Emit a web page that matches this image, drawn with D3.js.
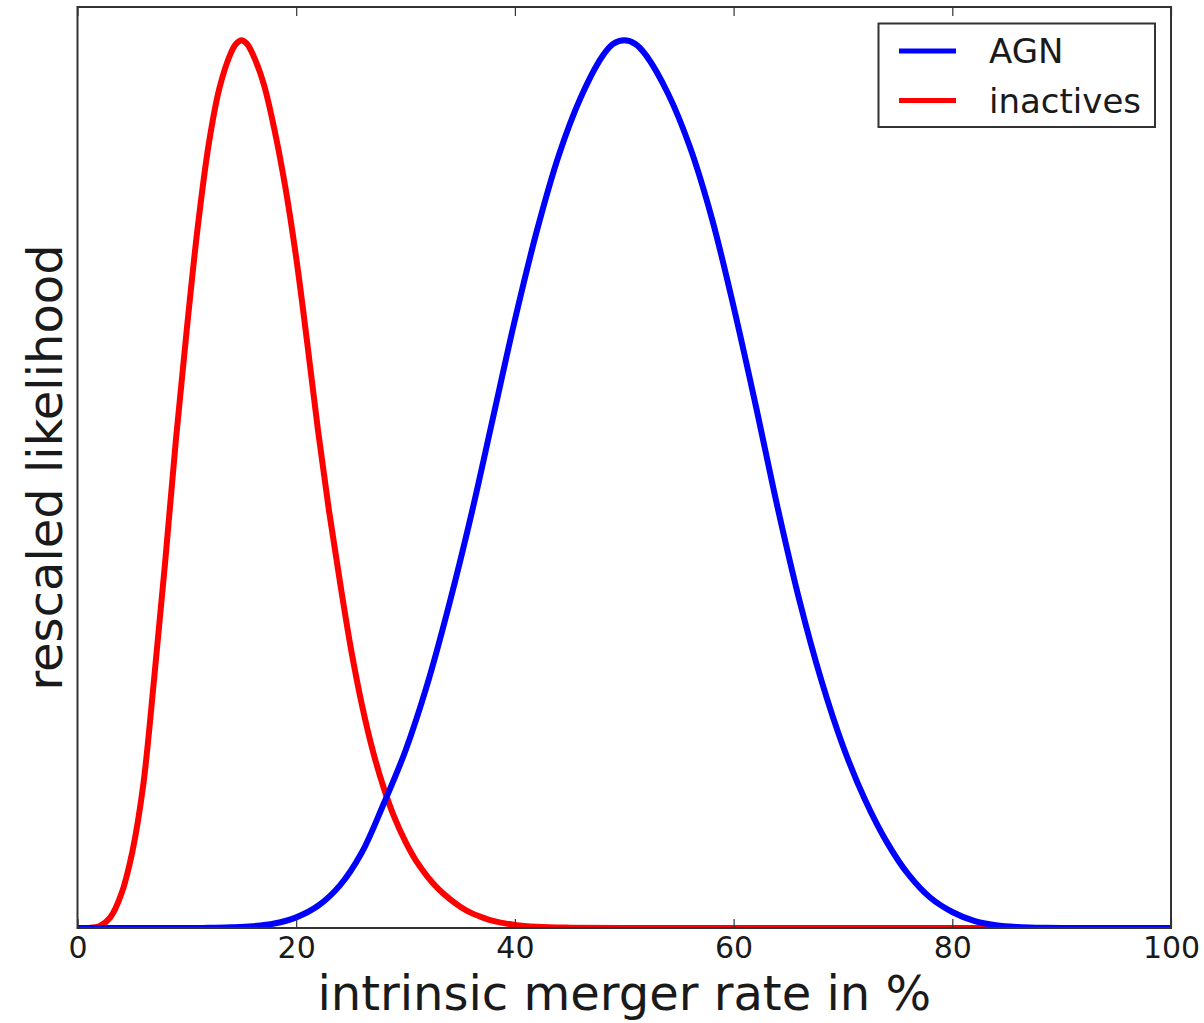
<!DOCTYPE html>
<html>
<head>
<meta charset="utf-8">
<script src="https://cdn.jsdelivr.net/npm/d3@7"></script>
<style>
  html, body { margin: 0; padding: 0; background: #fff; }
  svg { display: block; }
  text { font-family: "DejaVu Sans", sans-serif; fill: #1a1a1a; }
</style>
</head>
<body>
<svg id="chart" width="1204" height="1023"></svg>
<script>
// Values
const xTicks = [0, 20, 40, 60, 80, 100];
const seriesNames = ["AGN", "inactives"];
const seriesColors = ["#0000ff", "#ff0000"];

// inactives (red): intrinsic merger rate (%) vs rescaled likelihood
const inactiveX = [0, 1, 2, 3, 4, 5, 6, 7, 8, 9, 10, 11, 12, 13, 14, 14.5, 15, 15.5, 16, 17, 18, 19, 20,
                   21, 22, 23, 24, 25, 26, 27, 28, 29, 30, 31, 32, 33, 34, 35, 36, 37, 38, 40, 42, 45, 50, 60, 80, 100];
const inactiveY = [0, 0, 0.002, 0.012, 0.038, 0.085, 0.16, 0.28, 0.41, 0.55, 0.675, 0.79, 0.883, 0.947, 0.985, 0.996, 1.0,
                   0.996, 0.985, 0.952, 0.9, 0.835, 0.755, 0.66, 0.56, 0.47, 0.39, 0.315, 0.252, 0.2, 0.158, 0.124, 0.097,
                   0.075, 0.058, 0.044, 0.033, 0.024, 0.017, 0.012, 0.008, 0.0035, 0.0014, 0.0004, 0, 0, 0, 0];

// AGN (blue)
const agnX = [0, 10, 12, 14, 16, 18, 20, 22, 24, 26, 28, 30, 32, 34, 36, 38, 40, 42, 44, 46, 48, 49, 50,
              51, 52, 54, 56, 58, 60, 62, 64, 66, 68, 70, 72, 74, 76, 78, 80, 82, 84, 86, 88, 90, 100];
const agnY = [0, 0, 0.0002, 0.0008, 0.002, 0.005, 0.012, 0.025, 0.048, 0.085, 0.14, 0.2, 0.275, 0.365, 0.465,
              0.575, 0.685, 0.785, 0.87, 0.935, 0.982, 0.996, 1.0, 0.996, 0.983, 0.94, 0.88, 0.8, 0.7, 0.59, 0.475,
              0.37, 0.28, 0.205, 0.145, 0.097, 0.06, 0.034, 0.018, 0.008, 0.003, 0.001, 0.0003, 0, 0];

const svg = d3.select("#chart");
const plot = { left: 77.5, right: 1171, top: 7, bottom: 928 };

const x = d3.scaleLinear().domain([0, 100]).range([plot.left, plot.right]);
const y = d3.scaleLinear().domain([0, 1.0375]).range([plot.bottom, plot.top]);

svg.append("defs").append("clipPath").attr("id", "clip")
  .append("rect")
  .attr("x", plot.left).attr("y", plot.top - 5)
  .attr("width", plot.right - plot.left).attr("height", plot.bottom - plot.top + 5);

const line = d3.line()
  .x(d => x(d[0]))
  .y(d => y(Math.max(0, d[1])))
  .curve(d3.curveCatmullRom.alpha(0.5));

const inactiveData = inactiveX.map((v, i) => [v, inactiveY[i]]);
const agnData = agnX.map((v, i) => [v, agnY[i]]);

const g = svg.append("g").attr("clip-path", "url(#clip)");
g.append("path").datum(inactiveData)
  .attr("d", line).attr("fill", "none")
  .attr("stroke", seriesColors[1]).attr("stroke-width", 6)
  .attr("stroke-linejoin", "round").attr("stroke-linecap", "round");
g.append("path").datum(agnData)
  .attr("d", line).attr("fill", "none")
  .attr("stroke", seriesColors[0]).attr("stroke-width", 6)
  .attr("stroke-linejoin", "round").attr("stroke-linecap", "round");

// Frame
svg.append("rect")
  .attr("x", plot.left).attr("y", plot.top)
  .attr("width", plot.right - plot.left).attr("height", plot.bottom - plot.top)
  .attr("fill", "none").attr("stroke", "#333").attr("stroke-width", 2);

// Bottom axis (ticks inward)
const xAxis = d3.axisBottom(x).tickValues(xTicks).tickFormat(d3.format("d"))
  .tickSizeInner(-9).tickSizeOuter(0).tickPadding(9);
const gx = svg.append("g").attr("transform", `translate(0,${plot.bottom})`).call(xAxis);
gx.select(".domain").remove();
gx.selectAll(".tick line").attr("stroke", "#333").attr("stroke-width", 1.2);
gx.selectAll(".tick text").style("font-family", "DejaVu Sans, sans-serif")
  .style("font-size", "30px").attr("fill", "#1a1a1a");

// Top axis (mirror ticks, no labels)
const xTop = d3.axisTop(x).tickValues(xTicks).tickFormat("").tickSizeInner(-9).tickSizeOuter(0);
const gt = svg.append("g").attr("transform", `translate(0,${plot.top})`).call(xTop);
gt.select(".domain").remove();
gt.selectAll(".tick line").attr("stroke", "#333").attr("stroke-width", 1.2);

// Axis labels
svg.append("text")
  .attr("x", (plot.left + plot.right) / 2).attr("y", 1010)
  .attr("text-anchor", "middle")
  .style("font-size", "48px")
  .text("intrinsic merger rate in %");

svg.append("text")
  .attr("transform", `translate(62,${(plot.top + plot.bottom) / 2}) rotate(-90)`)
  .attr("text-anchor", "middle")
  .style("font-size", "48px")
  .text("rescaled likelihood");

// Legend
const legend = svg.append("g");
legend.append("rect")
  .attr("x", 878.5).attr("y", 23.5).attr("width", 276.5).attr("height", 103.5)
  .attr("fill", "#fff").attr("stroke", "#333").attr("stroke-width", 2);
const legendRows = [51, 100.5];
seriesNames.forEach((name, i) => {
  legend.append("line")
    .attr("x1", 899).attr("x2", 956)
    .attr("y1", legendRows[i]).attr("y2", legendRows[i])
    .attr("stroke", seriesColors[i]).attr("stroke-width", 5);
  legend.append("text")
    .attr("x", 989).attr("y", legendRows[i] + 12)
    .style("font-size", "34px")
    .text(name);
});
</script>
</body>
</html>
